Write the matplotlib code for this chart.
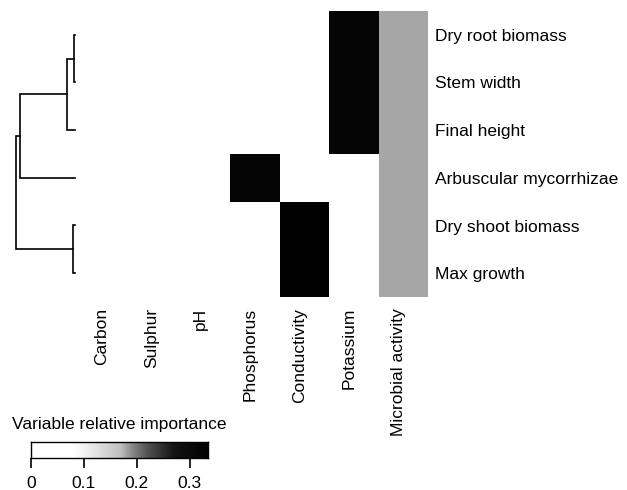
import numpy as np
import matplotlib
matplotlib.use("Agg")
import matplotlib.pyplot as plt
from matplotlib.colors import LinearSegmentedColormap

plt.rcParams['font.family'] = ['Liberation Sans', 'DejaVu Sans']

# ---- data ----
responses = ["Dry root biomass", "Stem width", "Final height",
             "Arbuscular mycorrhizae", "Dry shoot biomass", "Max growth"]
predictors = ["Carbon", "Sulphur", "pH", "Phosphorus", "Conductivity",
              "Potassium", "Microbial activity"]

# relative importance per response (rows) and predictor (columns)
carbon = [0, 0, 0, 0, 0, 0]
sulphur = [0, 0, 0, 0, 0, 0]
ph = [0, 0, 0, 0, 0, 0]
phosphorus = [0, 0, 0, 0.32, 0, 0]
conductivity = [0, 0, 0, 0, 0.33, 0.33]
potassium = [0.32, 0.32, 0.32, 0, 0, 0]
microbial = [0.18, 0.18, 0.18, 0.18, 0.18, 0.18]

# dendrogram merges: (left node, right node, height); leaves 0..5 follow row order
merges = [(0, 1, 0.02), (4, 5, 0.035), (6, 2, 0.14), (8, 3, 0.93), (9, 7, 1.0)]

cbar_ticks = [0, 0.1, 0.2, 0.3]
vmax = 0.335

# ---- colour map (white -> black, grey in the middle) ----
cmap = LinearSegmentedColormap.from_list("imp", [
    (0.0, (1, 1, 1)), (0.08 / vmax, (1, 1, 1)), (0.12 / vmax, (0.9, 0.9, 0.9)),
    (0.17 / vmax, (0.75, 0.75, 0.75)), (0.19 / vmax, (0.55, 0.55, 0.55)),
    (0.22 / vmax, (0.33, 0.33, 0.33)), (0.27 / vmax, (0.08, 0.08, 0.08)),
    (1.0, (0, 0, 0))])

W, H = 627, 490
fig = plt.figure(figsize=(W / 100, H / 100), dpi=100)

def px_axes(x0, y0, x1, y1):
    return fig.add_axes([x0 / W, 1 - y1 / H, (x1 - x0) / W, (y1 - y0) / H])

# ---- heatmap ----
mat = np.array([carbon, sulphur, ph, phosphorus, conductivity, potassium, microbial]).T
ax = px_axes(82, 11, 428, 297)
ax.pcolormesh(np.arange(len(predictors) + 1), np.arange(len(responses) + 1), mat,
              cmap=cmap, vmin=0, vmax=vmax, edgecolors='none')
ax.set_xlim(0, len(predictors))
ax.set_ylim(len(responses), 0)
for s in ax.spines.values():
    s.set_visible(False)
# labels sit a little left of the cell centres, as in the original
ax.set_xticks(np.arange(len(predictors)) + 0.5 - 0.1)
ax.set_xticklabels(predictors, rotation=90, fontsize=12.5, va='top')
ax.set_yticks(np.arange(len(responses)) + 0.5)
ax.set_yticklabels(responses, fontsize=12.5)
ax.yaxis.tick_right()
ax.tick_params(axis='x', length=0, pad=8)
ax.tick_params(axis='y', length=0, pad=5)

# ---- dendrogram ----
dax = px_axes(16, 11, 75, 297)
dax.set_xlim(1.0, 0)
dax.set_ylim(len(responses), 0)
dax.axis('off')
pos = {i: i + 0.5 for i in range(len(responses))}
hgt = {i: 0.0 for i in range(len(responses))}
for k, (a, b, h) in enumerate(merges):
    node = len(responses) + k
    ya, yb = pos[a], pos[b]
    dax.plot([hgt[a], h, h, hgt[b]], [ya, ya, yb, yb], color='black', lw=1.2,
             solid_joinstyle='miter', clip_on=False)
    pos[node] = (ya + yb) / 2
    hgt[node] = h

# ---- colour key ----
cax = px_axes(31, 442, 208, 458)
grad = np.linspace(0, vmax, 256)[None, :]
cax.imshow(grad, aspect='auto', cmap=cmap, vmin=0, vmax=vmax,
           extent=[0, vmax, 0, 1])
cax.set_xlim(0, vmax)
cax.set_yticks([])
cax.set_xticks(cbar_ticks)
cax.set_xticklabels([f"{t:g}" for t in cbar_ticks], fontsize=12.5)
cax.tick_params(axis='x', length=7, width=1.2, pad=6)
for s in cax.spines.values():
    s.set_linewidth(1.0)
fig.text(12 / W, 1 - 425 / H, "Variable relative importance", fontsize=12.5,
         ha='left', va='center')

fig.savefig("out.png", dpi=100)
